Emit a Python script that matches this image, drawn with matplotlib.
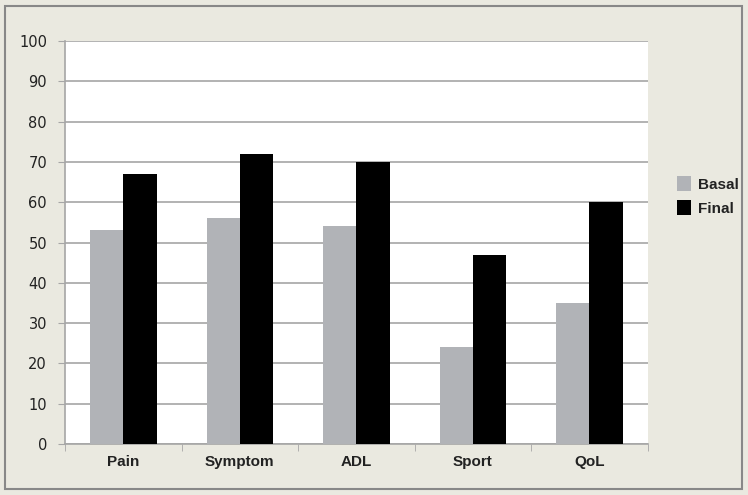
import numpy as np
from matplotlib import pyplot as plt
from matplotlib.patches import Rectangle

categories = ["Pain", "Symptom", "ADL", "Sport", "QoL"]
basal = [53, 56, 54, 24, 35]
final = [67, 72, 70, 47, 60]
y_ticks = list(range(0, 101, 10))

BG = "#eae9e0"
GRID = "#a6a6a6"


def main():
    fig = plt.figure(figsize=(7.48, 4.95), dpi=100, facecolor=BG)
    ax = fig.add_axes([0.087, 0.103, 0.779, 0.814])
    ax.set_facecolor("white")

    x = np.arange(len(categories))
    w = 0.285
    ax.bar(x - w / 2, basal, width=w, color="#b1b3b7", label="Basal", zorder=3)
    ax.bar(x + w / 2, final, width=w, color="black", label="Final", zorder=3)

    ax.set_xlim(-0.5, len(categories) - 0.5)
    ax.set_ylim(0, 100)
    ax.set_yticks(y_ticks)
    ax.yaxis.grid(True, color=GRID, linewidth=1.2, zorder=0)

    ax.set_xticks(x)
    ax.set_xticklabels(categories, fontweight="bold", fontsize=11,
                       fontfamily="Liberation Sans", color="#222222")
    ax.tick_params(axis="x", length=0, pad=8)
    ax.set_xticks(np.arange(-0.5, len(categories)), minor=True)
    ax.tick_params(axis="x", which="minor", length=5, color=GRID, direction="out")
    ax.tick_params(axis="y", length=5, color=GRID, labelsize=10.5, pad=8,
                   labelcolor="#222222")
    for lab in ax.get_yticklabels():
        lab.set_fontfamily("DejaVu Sans")

    for side in ["top", "right"]:
        ax.spines[side].set_visible(False)
    for side in ["left", "bottom"]:
        ax.spines[side].set_color(GRID)
        ax.spines[side].set_linewidth(1.2)

    leg = ax.legend(loc="upper left", bbox_to_anchor=(1.05, 0.665), frameon=False,
                    prop={"weight": "bold", "size": 11, "family": "Liberation Sans"},
                    handlelength=0.95, handleheight=1.1, handletextpad=0.4,
                    labelspacing=0.55, borderpad=0, borderaxespad=0)
    for t in leg.get_texts():
        t.set_color("#222222")

    fig.patches.append(Rectangle((0.007, 0.012), 0.985, 0.976, transform=fig.transFigure,
                                 fill=False, edgecolor="#888888", linewidth=1.5))

    fig.savefig("out.png", dpi=100, facecolor=BG)


if __name__ == "__main__":
    main()
